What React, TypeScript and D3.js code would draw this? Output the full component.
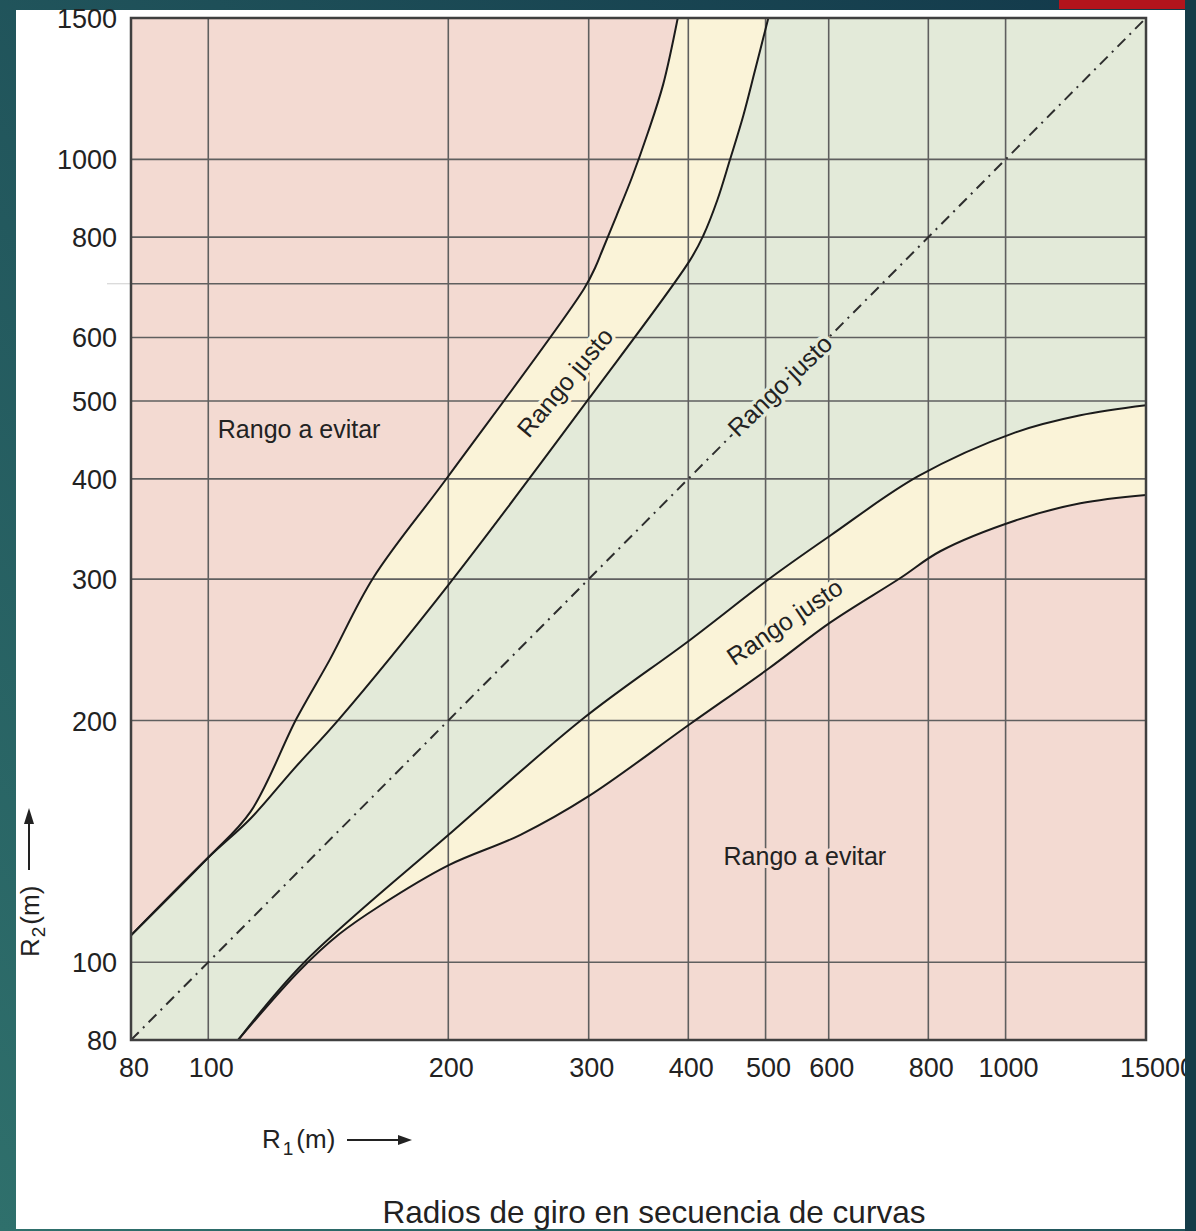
import React from 'react';
import * as d3 from 'd3';

const W = 1196;
const H = 1231;

// Axis ticks / grid (R1 on x, R2 on y, metres, log scale)
const xTickValues = [80, 100, 200, 300, 400, 500, 600, 800, 1000, 1500];
const xTickLabels = ['80', '100', '200', '300', '400', '500', '600', '800', '1000', '15000'];
const yTickValues = [80, 100, 200, 300, 400, 500, 600, 800, 1000, 1500];
const yTickLabels = ['80', '100', '200', '300', '400', '500', '600', '800', '1000', '1500'];
const xGrid = [100, 200, 300, 400, 500, 600, 800, 1000];
const yGrid = [100, 200, 300, 400, 500, 600, 700, 800, 1000];

// Boundary curves [R1, R2]
const upperOuter: [number, number][] = [
  [80, 108], [100, 135], [113, 154], [129, 201], [142, 238], [161, 301],
  [200, 403], [296, 690], [306, 735], [312, 770], [325, 850], [340, 950],
  [356, 1080], [372, 1240], [388, 1500],
];
const upperInner: [number, number][] = [
  [80, 108], [100, 135], [113, 151], [128, 174], [146, 201], [200, 295],
  [300, 503], [402, 749], [418, 805], [435, 890], [451, 998], [469, 1135],
  [485, 1291], [504, 1500],
];
const lowerUpper: [number, number][] = [
  [109, 80], [132, 100], [200, 144], [295, 201], [402, 252], [507, 301],
  [603, 340], [777, 403], [1029, 457], [1241, 480], [1500, 494],
];
const lowerLower: [number, number][] = [
  [109, 80], [130, 97.5], [146, 108.4], [164, 117.5], [200, 132], [246, 144],
  [300, 161], [402, 198], [504, 232], [603, 265], [738, 301], [828, 325],
  [1029, 355], [1241, 373], [1500, 382],
];
const diagonal: [number, number][] = [[80, 80], [1500, 1500]];

const labelsAvoid = [
  { text: 'Rango a evitar', r1: 130, r2: 462 },
  { text: 'Rango a evitar', r1: 560, r2: 135.6 },
];
const labelsJusto = [
  { text: 'Rango justo', r1: 280, r2: 528, angle: -50 },
  { text: 'Rango justo', r1: 521, r2: 523, angle: -44 },
  { text: 'Rango justo', r1: 528, r2: 265.6, angle: -34 },
];

const COLORS = {
  pink: '#f3dad2',
  yellow: '#faf3d8',
  green: '#e3ead9',
  grid: '#5f5f5f',
  line: '#1b1b1b',
  text: '#222222',
};

export default function App() {
  const x = d3.scaleLog().domain([80, 1500]).range([131, 1146]);
  const y = d3.scaleLog().domain([80, 1500]).range([1040, 18]);
  const [x0, x1] = x.range();
  const [y0, y1] = y.range();

  const line = d3
    .line<[number, number]>()
    .x((d) => x(d[0]))
    .y((d) => y(d[1]))
    .curve(d3.curveCatmullRom.alpha(0.5));
  const straight = d3.line<[number, number]>().x((d) => x(d[0])).y((d) => y(d[1]));

  const rev = (a: [number, number][]) => a.slice().reverse();
  const yellowPath =
    (line(upperOuter) as string) +
    `L${x(1500)},${y(1500)}` +
    (line(rev(lowerLower)) as string).replace(/^M/, 'L') +
    `L${x(80)},${y(80)}Z`;
  const greenPath =
    (line(upperInner) as string) +
    `L${x(1500)},${y(1500)}` +
    (line(rev(lowerUpper)) as string).replace(/^M/, 'L') +
    `L${x(80)},${y(80)}Z`;

  const font = "'Liberation Sans', Arial, Helvetica, sans-serif";

  return (
    <svg
      width={W}
      height={H}
      style={{ position: 'absolute', left: 0, top: 0, display: 'block' }}
      fontFamily={font}
    >
      <defs>
        <linearGradient id="bg" x1="0" y1="1" x2="1" y2="0">
          <stop offset="0" stopColor="#2f706c" />
          <stop offset="1" stopColor="#12384a" />
        </linearGradient>
        <clipPath id="plotClip">
          <rect x={x0} y={y1} width={x1 - x0} height={y0 - y1} />
        </clipPath>
      </defs>
      <rect x={0} y={0} width={W} height={H} fill="url(#bg)" />
      <rect x={16} y={10} width={1169} height={1219} fill="#ffffff" />

      <g clipPath="url(#plotClip)">
        <rect x={x0} y={y1} width={x1 - x0} height={y0 - y1} fill={COLORS.pink} />
        <path d={yellowPath} fill={COLORS.yellow} />
        <path d={greenPath} fill={COLORS.green} />
        {xGrid.map((v) => (
          <line key={'gx' + v} x1={x(v)} x2={x(v)} y1={y1} y2={y0} stroke={COLORS.grid} strokeWidth={1.6} />
        ))}
        {yGrid.map((v) => (
          <line key={'gy' + v} x1={x0} x2={x1} y1={y(v)} y2={y(v)} stroke={COLORS.grid} strokeWidth={1.6} />
        ))}
        {[upperOuter, upperInner, lowerUpper, lowerLower].map((c, i) => (
          <path key={'c' + i} d={line(c) as string} fill="none" stroke={COLORS.line} strokeWidth={2} />
        ))}
        <path
          d={straight(diagonal) as string}
          fill="none"
          stroke="#2e2e2e"
          strokeWidth={2}
          strokeDasharray="11,6,2,6"
        />
      </g>
      <line x1={107} x2={x0} y1={y(700)} y2={y(700)} stroke="#d6d6d6" strokeWidth={1.2} />
      <rect x={x0} y={y1} width={x1 - x0} height={y0 - y1} fill="none" stroke="#3f3f3f" strokeWidth={2.5} />

      {labelsAvoid.map((l, i) => (
        <text
          key={'la' + i}
          x={x(l.r1)}
          y={y(l.r2)}
          textAnchor="middle"
          dominantBaseline="central"
          fontSize={25}
          fill={COLORS.text}
          stroke={COLORS.pink}
          strokeWidth={6}
          paintOrder="stroke"
          strokeLinejoin="round"
        >
          {l.text}
        </text>
      ))}
      {labelsJusto.map((l, i) => (
        <text
          key={'lj' + i}
          transform={`translate(${x(l.r1)},${y(l.r2)}) rotate(${l.angle})`}
          textAnchor="middle"
          dominantBaseline="central"
          fontSize={25}
          fill={COLORS.text}
          stroke={i === 1 ? COLORS.green : COLORS.yellow}
          strokeWidth={7}
          paintOrder="stroke"
          strokeLinejoin="round"
        >
          {l.text}
        </text>
      ))}

      {xTickValues.map((v, i) => (
        <text
          key={'xt' + v}
          x={i === xTickValues.length - 1 ? x(v) - 26 : x(v) + 3}
          y={1077}
          fontSize={27}
          fill={COLORS.text}
          textAnchor={i === xTickValues.length - 1 ? 'start' : 'middle'}
        >
          {xTickLabels[i]}
        </text>
      ))}
      {yTickValues.map((v, i) => (
        <text
          key={'yt' + v}
          x={117}
          y={y(v) + 10}
          fontSize={27}
          fill={COLORS.text}
          textAnchor="end"
        >
          {yTickLabels[i]}
        </text>
      ))}

      {/* x axis title */}
      <text x={262} y={1148} fontSize={26} fill={COLORS.text}>
        R<tspan fontSize={19} dy={7} dx={2}>1</tspan>
        <tspan dy={-7} dx={3}>(m)</tspan>
      </text>
      <line x1={347} x2={400} y1={1140} y2={1140} stroke={COLORS.text} strokeWidth={2} />
      <polygon points="398,1135 412,1140 398,1145" fill={COLORS.text} />

      {/* y axis title */}
      <text transform="translate(39,957) rotate(-90)" fontSize={26} fill={COLORS.text}>
        R<tspan fontSize={19} dy={6} dx={1}>2</tspan>
        <tspan dy={-6} dx={2}>(m)</tspan>
      </text>
      <line x1={29} x2={29} y1={870} y2={822} stroke={COLORS.text} strokeWidth={2} />
      <polygon points="24,824 29,808 34,824" fill={COLORS.text} />

      <text x={654} y={1223} fontSize={31.5} fill={COLORS.text} textAnchor="middle">
        Radios de giro en secuencia de curvas
      </text>

      {/* frame pieces */}
      <rect x={1185} y={0} width={W - 1185} height={H} fill="#153c48" />
      <rect x={1059} y={0} width={126} height={9} fill="#b3141c" />
    </svg>
  );
}
